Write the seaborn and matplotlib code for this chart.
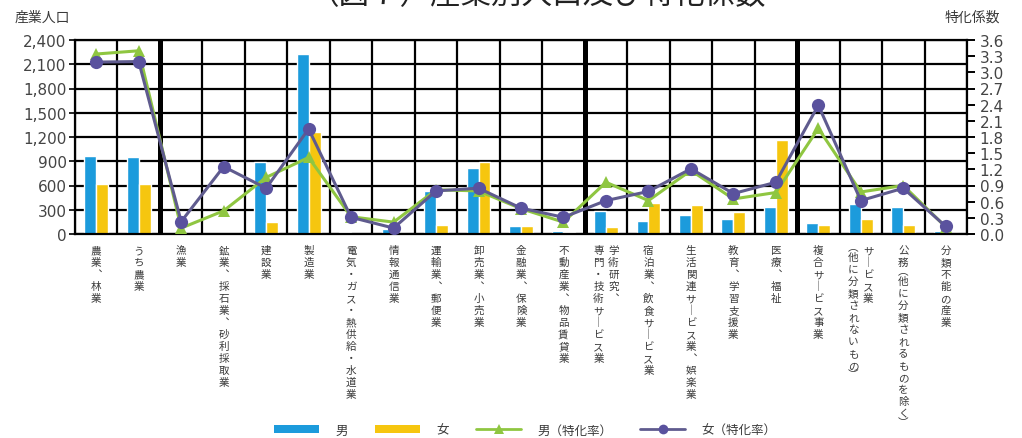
import numpy as np
import pandas as pd
import matplotlib
matplotlib.use("Agg")
import matplotlib.pyplot as plt
import seaborn as sns
from matplotlib.patches import Patch
from matplotlib.lines import Line2D
from matplotlib.ticker import MultipleLocator, FixedLocator, FuncFormatter, NullFormatter

# Industry labels, one list per label: each entry is one vertical column (right to left)
label_columns = [
    ["農業、林業"], ["うち農業"], ["漁業"], ["鉱業、採石業、砂利採取業"], ["建設業"],
    ["製造業"], ["電気・ガス・熱供給・水道業"], ["情報通信業"], ["運輸業、郵便業"],
    ["卸売業、小売業"], ["金融業、保険業"], ["不動産業、物品賃貸業"],
    ["学術研究、", "専門・技術サービス業"], ["宿泊業、飲食サービス業"],
    ["生活関連サービス業、娯楽業"], ["教育、学習支援業"], ["医療、福祉"],
    ["複合サービス事業"], ["サービス業", "（他に分類されないもの）"],
    ["公務（他に分類されるものを除く）"], ["分類不能の産業"],
]
industries = ["".join(c) for c in label_columns]

# 産業人口（人）
men = [970, 950, 4, 3, 890, 2230, 20, 60, 530, 820, 95, 40,
       290, 165, 240, 185, 340, 130, 370, 340, 40]
women = [620, 615, 2, 1, 145, 1260, 5, 10, 110, 890, 95, 30,
         90, 380, 360, 270, 1160, 110, 190, 110, 15]

# 特化係数
men_coef = [3.34, 3.40, 0.11, 0.43, 1.05, 1.42, 0.32, 0.22, 0.82, 0.80, 0.47, 0.22,
            0.96, 0.62, 1.18, 0.65, 0.77, 1.96, 0.78, 0.90, 0.13]
women_coef = [3.19, 3.20, 0.23, 1.25, 0.85, 1.95, 0.31, 0.11, 0.80, 0.85, 0.48, 0.31,
              0.62, 0.79, 1.21, 0.75, 0.96, 2.39, 0.62, 0.85, 0.14]

# Thick separators are drawn after these industries
divider_after = ["うち農業", "不動産業、物品賃貸業", "医療、福祉"]

BLUE = "#1C9BDC"
YELLOW = "#F6C60F"
GREEN = "#8FC641"
PURPLE = "#5A529E"
PURPLE_LINE = "#5F5B8E"
JP = "Noto Sans CJK JP"
TXT = "#3a3a3a"

sns.set_style("white")
plt.rcParams["font.family"] = ["DejaVu Sans", JP]

fig = plt.figure(figsize=(10.22, 4.39), dpi=100)
ax = fig.add_axes([75 / 1022, 1 - 235 / 439, (967 - 75) / 1022, (235 - 41) / 439])

bars = pd.DataFrame({
    "産業": industries * 2,
    "人口": men + women,
    "性別": ["男"] * len(men) + ["女"] * len(women),
})
sns.barplot(data=bars, x="産業", y="人口", hue="性別", order=industries,
            hue_order=["男", "女"], palette={"男": BLUE, "女": YELLOW},
            width=0.56, saturation=1, errorbar=None, legend=False, ax=ax)

ax.set_xlim(-0.5, len(industries) - 0.5)
ax.set_ylim(0, 2400)
ax.yaxis.set_major_locator(MultipleLocator(300))
ax.yaxis.set_major_formatter(FuncFormatter(lambda v, p: f"{int(v):,}"))
ax.set_xlabel("")
ax.set_ylabel("")

# Grid: horizontal every 300, vertical at category boundaries
bounds = np.arange(-0.5, len(industries), 1.0)
ax.xaxis.set_minor_locator(FixedLocator(bounds))
ax.xaxis.set_minor_formatter(NullFormatter())
ax.set_xticklabels([])
ax.set_axisbelow(True)
ax.grid(axis="y", which="major", color="black", linewidth=1.6)
ax.grid(axis="x", which="minor", color="black", linewidth=1.6)
ax.tick_params(axis="x", which="major", length=0)
ax.tick_params(axis="x", which="minor", length=5, width=1.4, color="black", direction="out")
ax.tick_params(axis="y", length=4, width=1.2, color="black", direction="out",
               labelsize=11, labelcolor="#444444", pad=2)
for s in ax.spines.values():
    s.set_color("black")
    s.set_linewidth(1.6)

for name in divider_after:
    ax.axvline(industries.index(name) + 0.5, color="black", linewidth=3.6, zorder=1.5)

# Specialization coefficients on the secondary axis
ax2 = ax.twinx()
coef = pd.DataFrame({
    "pos": list(range(len(industries))) * 2,
    "係数": men_coef + women_coef,
    "系列": ["男（特化率）"] * len(men_coef) + ["女（特化率）"] * len(women_coef),
})
sns.lineplot(data=coef[coef["系列"] == "男（特化率）"], x="pos", y="係数",
             color=GREEN, marker="^", markersize=8, markeredgewidth=0,
             linewidth=2.2, ax=ax2, legend=False)
sns.lineplot(data=coef[coef["系列"] == "女（特化率）"], x="pos", y="係数",
             color=PURPLE_LINE, marker="o", markersize=9.5, markerfacecolor=PURPLE,
             markeredgewidth=0, linewidth=2.2, ax=ax2, legend=False)
ax2.set_ylim(0, 3.6)
ax2.yaxis.set_major_locator(MultipleLocator(0.3))
ax2.yaxis.set_major_formatter(FuncFormatter(lambda v, p: f"{v:.1f}"))
ax2.set_xlabel("")
ax2.set_ylabel("")
ax2.grid(False)
ax2.tick_params(axis="y", length=6, width=1.4, color="black", direction="out",
                labelsize=11, labelcolor="#444444", pad=3)
for s in ax2.spines.values():
    s.set_visible(False)
ax.set_xlim(-0.5, len(industries) - 0.5)

# Vertical (tategaki) category labels
VERT = str.maketrans({"ー": "｜", "、": "︑", "（": "︵", "）": "︶"})


def draw_vertical_label(pos, columns):
    n = len(columns)
    for k, col in enumerate(columns):
        dx = ((n - 1) / 2 - k) * 15
        top = -10
        for ch in col.translate(VERT):
            h = 7 if ch in "︵︶" else 12
            ax.annotate(ch, xy=(pos, 0), xycoords=("data", "axes fraction"),
                        xytext=(dx, top - h / 2), textcoords="offset pixels",
                        ha="center", va="center", fontsize=7.6, family=JP,
                        color=TXT, annotation_clip=False)
            top -= h


for i, cols in enumerate(label_columns):
    draw_vertical_label(i, cols)

# Titles and axis captions
fig.text(537 / 1022, 1 - 11 / 439, "（図７）産業別人口及び特化係数", ha="center",
         va="bottom", fontsize=22, family=JP, color="#222222")
fig.text(15 / 1022, 1 - 18 / 439, "産業人口", ha="left", va="center",
         fontsize=10, family=JP, color=TXT)
fig.text(1000 / 1022, 1 - 18 / 439, "特化係数", ha="right", va="center",
         fontsize=10, family=JP, color=TXT)

handles = [
    Patch(facecolor=BLUE, edgecolor="none"),
    Patch(facecolor=YELLOW, edgecolor="none"),
    Line2D([], [], color=GREEN, marker="^", markersize=7, linewidth=2, markeredgewidth=0),
    Line2D([], [], color=PURPLE_LINE, marker="o", markersize=7, linewidth=2,
           markerfacecolor=PURPLE, markeredgewidth=0),
]
labels = ["男", "女", "男（特化率）", "女（特化率）"]
fig.legend(handles, labels, loc="center", bbox_to_anchor=(525 / 1022, 1 - 431 / 439),
           ncol=4, frameon=False, prop={"family": JP, "size": 9},
           handlelength=3.6, handleheight=0.55, columnspacing=2.2, handletextpad=1.3,
           labelcolor=TXT)

fig.savefig("out.png", dpi=100)
